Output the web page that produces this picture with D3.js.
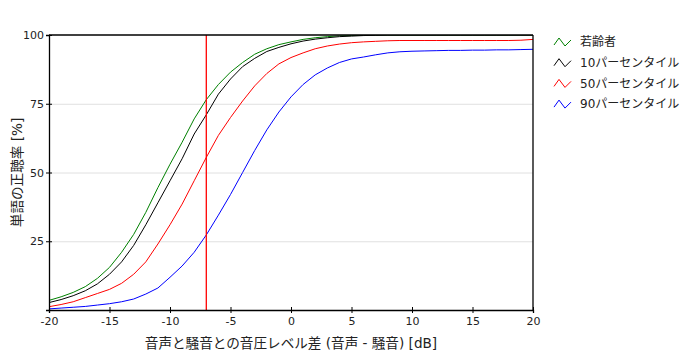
<!DOCTYPE html>
<html><head><meta charset="utf-8">
<script src="https://cdn.jsdelivr.net/npm/d3@7"></script>
<style>
body{margin:0;background:#fff;}
text{font-family:"DejaVu Sans","Noto Sans CJK JP",sans-serif;}
</style></head>
<body><svg id="c" width="680" height="360"></svg>
<script>
const dB = d3.range(-20, 21);
const youth =  [3.5,4.8,6.4,8.5,11.5,15.5,21,27.5,35.5,44.5,53,61,69.5,76.5,82,86.5,90,93,95,96.5,97.5,98.4,99,99.4,99.7,99.8,99.9,100,100,100,100,100,100,100,100,100,100,100,100,100,100];
const p10 =    [2.7,3.8,5.2,7,9.5,13,17.5,23.5,31,39,47,55,64,71,78.5,84,88.5,91.5,94,95.5,96.8,97.8,98.5,99,99.4,99.6,99.8,99.9,100,100,100,100,100,100,100,100,100,100,100,100,100];
const p50 =    [1.2,2,3,4.5,6,7.5,9.7,13,17.5,24,31,38.5,47,55.5,63.5,70,76,81.5,86,89.5,91.8,93.5,95,96,96.7,97.2,97.5,97.7,97.9,98,98,98,98,98,98,98,98,98,98,98.1,98.4];
const p90 =    [0.4,0.7,1,1.3,1.8,2.3,3,4,5.8,8,11.9,16,21,27.3,34.5,42,50,58,65.5,72,77.5,82,85.5,88,90,91.3,92,92.8,93.5,93.9,94.1,94.2,94.3,94.4,94.4,94.5,94.5,94.6,94.6,94.7,94.8];
const seriesNames = ["若齢者","10パーセンタイル","50パーセンタイル","90パーセンタイル"];
const seriesColors = ["green","black","red","blue"];
const seriesValues = [youth,p10,p50,p90];
const xTicks = [-20,-15,-10,-5,0,5,10,15,20];
const yTicks = [25,50,75,100];
const markerX = -7;
const xTitle = "音声と騒音との音圧レベル差 (音声 - 騒音) [dB]";
const yTitle = "単語の正聴率 [%]";

const svg = d3.select("#c");
const L=49, R=533, T=35, B=310;
const x = d3.scaleLinear().domain([-20,20]).range([L,R]);
const y = d3.scaleLinear().domain([0,100]).range([B,T]);

// grid
svg.append("g").selectAll("line").data(yTicks.filter(v=>v<100)).join("line")
  .attr("x1",L).attr("x2",R).attr("y1",d=>y(d)+0.5).attr("y2",d=>y(d)+0.5)
  .attr("stroke","#e0e0e0").attr("stroke-width",1);

// clip
svg.append("clipPath").attr("id","clip").append("rect").attr("x",L).attr("y",T).attr("width",R-L).attr("height",B-T);

const line = d3.line().x((d,i)=>x(dB[i])).y(d=>y(d));
const gLines = svg.append("g").attr("clip-path","url(#clip)");
seriesValues.forEach((vals,k)=>{
  gLines.append("path").datum(vals).attr("d",line).attr("fill","none")
    .attr("stroke",seriesColors[k]).attr("stroke-width",1);
});

// marker line
svg.append("line").attr("x1",x(markerX)).attr("x2",x(markerX)).attr("y1",T).attr("y2",B)
  .attr("stroke","red").attr("stroke-width",1.3);

// frame top & right
svg.append("line").attr("x1",L).attr("x2",R).attr("y1",T).attr("y2",T).attr("stroke","#000").attr("stroke-width",1.3);
svg.append("line").attr("x1",R).attr("x2",R).attr("y1",T).attr("y2",B).attr("stroke","#000").attr("stroke-width",1.3);

// axes
const xAxis = svg.append("g").attr("transform",`translate(0,${B})`)
  .call(d3.axisBottom(x).tickValues(xTicks).tickSize(3).tickSizeInner(3).tickFormat(d=>String(d)));
xAxis.select(".domain").attr("stroke-width",1.3);
xAxis.selectAll(".tick line").attr("y1",-3).attr("y2",3);
xAxis.selectAll(".tick text").attr("y",7).attr("font-size",11).attr("fill","#222")
  .style("font-family","'DejaVu Sans',sans-serif");

const yAxis = svg.append("g").attr("transform",`translate(${L},0)`)
  .call(d3.axisLeft(y).tickValues(yTicks).tickSize(3).tickFormat(d=>String(d)));
yAxis.select(".domain").attr("stroke-width",1.3);
yAxis.selectAll(".tick line").attr("x1",3).attr("x2",-3);
yAxis.selectAll(".tick text").attr("x",-5).attr("font-size",11).attr("fill","#222")
  .style("font-family","'DejaVu Sans',sans-serif");

// titles
svg.append("text").attr("x",(L+R)/2).attr("y",348).attr("text-anchor","middle")
  .attr("font-size",13.6).attr("fill","#222").text(xTitle);
svg.append("text").attr("transform",`translate(22,${(T+B)/2}) rotate(-90)`).attr("text-anchor","middle")
  .attr("font-size",13.6).attr("fill","#222").text(yTitle);

// legend
const lg = svg.append("g");
seriesNames.forEach((n,k)=>{
  const yy = 42 + k*20.7;
  lg.append("path").attr("d",`M554,${yy+3} L559,${yy-4} L565,${yy+4} L571,${yy-2}`)
    .attr("fill","none").attr("stroke",seriesColors[k]).attr("stroke-width",1);
  lg.append("text").attr("x",580).attr("y",yy).attr("dy","0.35em").attr("font-size",12)
    .attr("fill","#222").text(n);
});
</script></body></html>
